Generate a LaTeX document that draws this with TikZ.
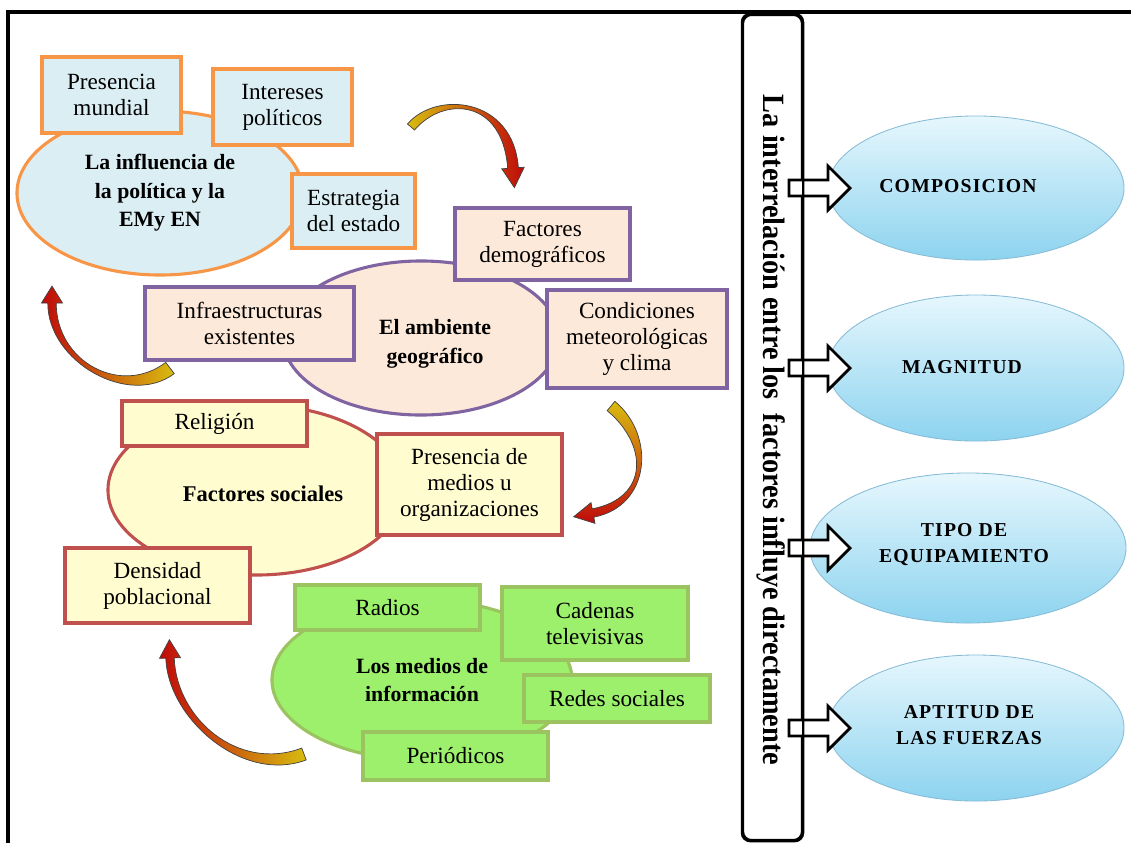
\documentclass[tikz,border=0pt]{standalone}
\usepackage{fontspec}
\setmainfont{Liberation Serif}
\usetikzlibrary{shapes.geometric,calc}
\definecolor{orB}{HTML}{F79646}
\definecolor{blF}{HTML}{DBEEF4}
\definecolor{puB}{HTML}{8064A2}
\definecolor{peF}{HTML}{FDE9D9}
\definecolor{reB}{HTML}{C0504D}
\definecolor{yeF}{HTML}{FFFDCF}
\definecolor{grB}{HTML}{9BC35F}
\definecolor{grF}{HTML}{9CF06B}
\definecolor{aryel}{HTML}{D8BC10}
\definecolor{arred}{HTML}{C00A0A}
\definecolor{cyT}{HTML}{E6F7FD}
\definecolor{cyB}{HTML}{8DD3EF}
\definecolor{cyD}{HTML}{86BCD6}
\newcommand\curvarr[9]{%
 \coordinate (P0) at #1; \coordinate (P1) at #2; \coordinate (P2) at #3; \coordinate (P3) at #4;
 \path[draw=black!75, line width=0.5pt, #9]
  ($(P0)!#5!90:(P1)$) .. controls ($(P1)!#5!-90:(P0)$) and ($(P2)!#6!90:(P3)$) .. ($(P3)!#6!-90:(P2)$)
  -- ($(P3)!#7!-90:(P2)$) -- ($(P3)!#8!180:(P2)$) -- ($(P3)!#7!90:(P2)$) -- ($(P3)!#6!90:(P2)$)
  .. controls ($(P2)!#6!-90:(P3)$) and ($(P1)!#5!90:(P0)$) .. ($(P0)!#5!-90:(P1)$) -- cycle;}
\newcommand\blockarr[1]{%
 \draw[barr] ($(bar.center |- #1.center)+(16.5,-8)$) -- ++(39,0) -- ++(0,-14) -- ++(22,22) -- ++(-22,22) -- ++(0,-14) -- ++(-39,0) -- cycle;}
\begin{document}
\begin{tikzpicture}[x=0.025cm,y=-0.025cm,
  bx/.style={draw, line width=2.2pt, align=center, inner sep=2pt, font=\fontsize{16.5}{18.5}\selectfont},
  lel/.style={ellipse, draw, line width=2.2pt, align=center, inner sep=0pt, font=\fontsize{15.5}{20.3}\selectfont\bfseries},
  ltx/.style={align=center, inner sep=0pt, font=\fontsize{15.5}{20.3}\selectfont\bfseries},
  rel/.style={ellipse, draw=cyD, line width=0.6pt, top color=cyT, bottom color=cyB, inner sep=0pt},
  rtx/.style={align=center, font=\fontsize{14}{18.5}\selectfont\bfseries\addfontfeature{LetterSpace=6}},
  barr/.style={draw=black, line width=2pt, fill=white, line join=miter}]
\useasboundingbox (0,0) rectangle (1131,843);
\fill[white] (0,0) rectangle (1131,843);
\draw[line width=2.8pt] (8,843) -- (8,12) -- (1131,12);

% cluster 1
\node[lel, draw=orB, fill=blF, minimum width=7.15cm, minimum height=4.1cm] (c1) at (160,193) {La influencia de\\la política y la\\EMy EN};
\node[bx, draw=orB, fill=blF, minimum width=3.475cm, minimum height=1.9cm] (pres) at (111.5,95) {Presencia\\mundial};
\node[bx, draw=orB, fill=blF, minimum width=3.475cm, minimum height=1.9cm] (inter) at (282.5,107) {Intereses\\políticos};
\node[bx, draw=orB, fill=blF, minimum width=3.075cm, minimum height=1.85cm] (estr) at (353.5,211) {Estrategia\\del estado};

% cluster 2
\node[lel, draw=puB, fill=peF, minimum width=6.9cm, minimum height=3.85cm] (c2) at (421,338) {};
\node[ltx] (c2t) at (435,344) {El ambiente\\geográfico};
\node[bx, draw=puB, fill=peF, minimum width=4.375cm, minimum height=1.8cm] (dem) at (542.5,244) {Factores\\demográficos};
\node[bx, draw=puB, fill=peF, minimum width=5.225cm, minimum height=1.825cm] (infra) at (249.5,323.5) {Infraestructuras\\existentes};
\node[bx, draw=puB, fill=peF, minimum width=4.5cm, minimum height=2.45cm] (cond) at (637,339) {Condiciones\\meteorológicas\\y clima};

% cluster 3
\node[lel, draw=reB, fill=yeF, minimum width=7.4cm, minimum height=4.25cm] (c3) at (256,490) {};
\node[ltx, font=\fontsize{16}{20}\selectfont\bfseries] (c3t) at (263,494) {Factores sociales};
\node[bx, draw=reB, fill=yeF, minimum width=4.625cm, minimum height=1.125cm] (relig) at (214.5,423.5) {Religión};
\node[bx, draw=reB, fill=yeF, minimum width=4.625cm, minimum height=2.525cm] (presm) at (469.5,484.5) {Presencia de\\medios u\\organizaciones};
\node[bx, draw=reB, fill=yeF, minimum width=4.625cm, minimum height=1.875cm] (dens) at (157.5,585.5) {Densidad\\poblacional};

% cluster 4
\node[lel, draw=grB, fill=grF, minimum width=7.5cm, minimum height=4.0cm] (c4) at (422,680) {Los medios de\\información};
\node[bx, draw=grB, fill=grF, minimum width=4.625cm, minimum height=1.125cm] (radios) at (387.5,607.5) {Radios};
\node[bx, draw=grB, fill=grF, minimum width=4.65cm, minimum height=1.825cm] (cad) at (595,623.5) {Cadenas\\televisivas};
\node[bx, draw=grB, fill=grF, minimum width=4.65cm, minimum height=1.175cm] (redes) at (617,698.5) {Redes sociales};
\node[bx, draw=grB, fill=grF, minimum width=4.625cm, minimum height=1.2cm] (peri) at (455.5,756) {Periódicos};

% curved arrows
\curvarr{(411,127)}{(440,93)}{(508,98)}{(513,168)}{3.3pt}{3.8pt}{8pt}{14pt}{left color=aryel, right color=arred}
\curvarr{(170,368)}{(125,402)}{(52,362)}{(52,303)}{5pt}{3pt}{7.5pt}{12pt}{left color=arred, right color=aryel}
\curvarr{(611,406)}{(652,440)}{(650,502)}{(593,513)}{4.3pt}{3pt}{7.5pt}{14pt}{top color=aryel, bottom color=arred}
\curvarr{(304,754)}{(240,778)}{(172,718)}{(170,658)}{4.5pt}{3pt}{7.5pt}{13pt}{left color=arred, right color=aryel}

% right side
\node[rel, minimum width=7.4cm, minimum height=3.6cm] (e1) at (976,188) {};
\node[rel, minimum width=7.4cm, minimum height=3.65cm] (e2) at (976,368) {};
\node[rel, minimum width=7.9cm, minimum height=3.75cm] (e3) at (968,548) {};
\node[rel, minimum width=7.4cm, minimum height=3.65cm] (e4) at (976,728) {};
\node[rtx] (t1) at (958,186) {COMPOSICION};
\node[rtx] (t2) at (962,367) {MAGNITUD};
\node[rtx] (t3) at (964,545) {TIPO DE\\EQUIPAMIENTO};
\node[rtx] (t4) at (969,725) {APTITUD DE\\LAS FUERZAS};

\node[draw, line width=1.6pt, rounded corners=6pt, rotate=-90, minimum width=20.625cm, minimum height=1.475cm, inner sep=0pt] (bar) at (772.5,427.5) {};
\blockarr{e1}
\blockarr{e2}
\blockarr{e3}
\blockarr{e4}
\draw[line width=1.6pt, rounded corners=6pt] (bar.north west) -- (bar.north east) -- (bar.south east) -- (bar.south west) -- cycle;
\node[rotate=-90, inner sep=0pt] (vt) at (771,430) {\resizebox{16.75cm}{\height}{\fontsize{22}{22}\selectfont\bfseries La interrelación entre los\ \ factores influye directamente}};
\end{tikzpicture}
\end{document}
